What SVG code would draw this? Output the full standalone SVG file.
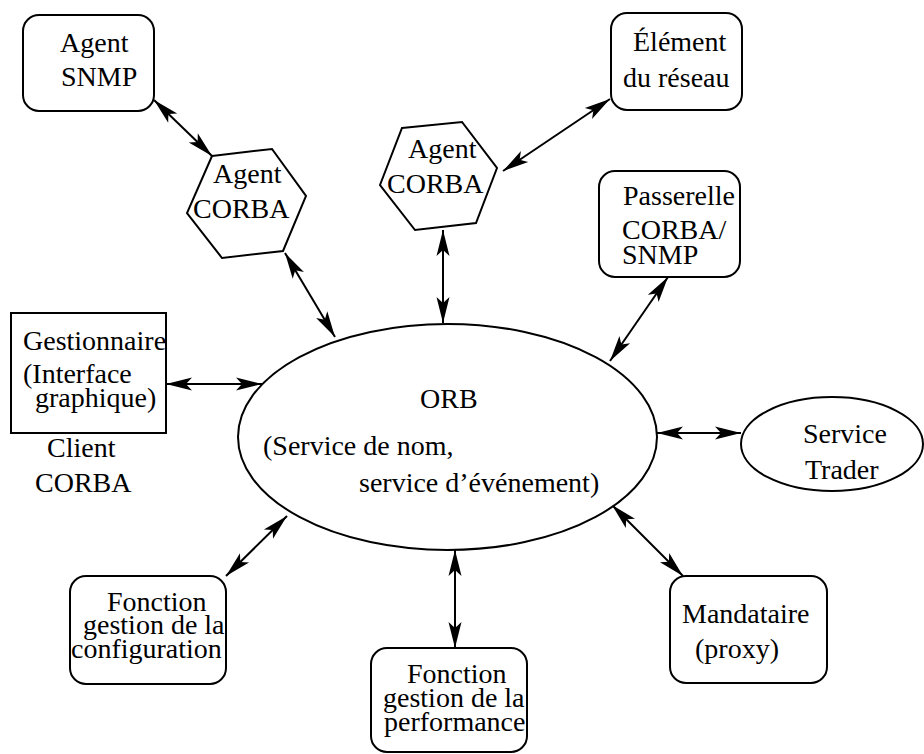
<svg xmlns="http://www.w3.org/2000/svg" width="924" height="754" viewBox="0 0 924 754">
  <style>
    .shape { fill: #fff; stroke: #000; stroke-width: 2; }
    .link { fill: none; stroke: #000; stroke-width: 2; marker-start: url(#head); marker-end: url(#head); }
    .label { font-family: 'Liberation Serif', 'DejaVu Serif', 'Times New Roman', serif; font-size: 28px; fill: #000; }
  </style>
  <defs>
    <!-- narrow filled arrowhead with a shallow notch -->
    <marker id="head" markerUnits="userSpaceOnUse" viewBox="-27 -7 28 14" refX="0" refY="0" markerWidth="28" markerHeight="14" orient="auto-start-reverse">
      <path d="M0,0 L-26,-6.5 L-20,0 L-26,6.5 Z" fill="#000"/>
    </marker>
  </defs>
  <rect width="924" height="754" fill="#fff"/>

  <g id="connectors">
    <line class="link" x1="154" y1="100" x2="212" y2="156"/>
    <line class="link" x1="285" y1="253" x2="335" y2="337"/>
    <line class="link" x1="443" y1="230" x2="443" y2="323"/>
    <line class="link" x1="503" y1="171" x2="610" y2="99"/>
    <line class="link" x1="668" y1="277" x2="610" y2="361"/>
    <line class="link" x1="166" y1="384" x2="262" y2="384"/>
    <line class="link" x1="657" y1="433" x2="741" y2="433"/>
    <line class="link" x1="612" y1="505" x2="683" y2="576"/>
    <line class="link" x1="455" y1="550" x2="455" y2="648"/>
    <line class="link" x1="287" y1="516" x2="226" y2="576"/>
  </g>

  <g class="label" font-family="Liberation Serif, serif">
    <g id="agent-snmp">
      <rect class="shape" x="23" y="15" width="131" height="96" rx="16"/>
      <text x="60" y="52">Agent</text>
      <text x="61" y="86">SNMP</text>
    </g>

    <g id="agent-corba-1">
      <polygon class="shape" points="212,156 272,149 306,196 283,251 222,258 187,213"/>
      <text x="213" y="183">Agent</text>
      <text x="193" y="218">CORBA</text>
    </g>

    <g id="agent-corba-2">
      <polygon class="shape" points="402,128 462,122 497,168 476,223 415,230 380,185"/>
      <text x="408" y="158">Agent</text>
      <text x="387" y="193">CORBA</text>
    </g>

    <g id="element-reseau">
      <rect class="shape" x="611" y="13" width="131" height="97" rx="16"/>
      <text x="633" y="51">Élément</text>
      <text x="623" y="87">du réseau</text>
    </g>

    <g id="passerelle">
      <rect class="shape" x="599" y="171" width="141" height="106" rx="16"/>
      <text x="623" y="205">Passerelle</text>
      <text x="622" y="239">CORBA/</text>
      <text x="622" y="264">SNMP</text>
    </g>

    <g id="gestionnaire">
      <rect class="shape" x="11" y="313" width="155" height="120"/>
      <text x="23" y="350">Gestionnaire</text>
      <text x="23" y="383">(Interface</text>
      <text x="35" y="407">graphique)</text>
      <text x="47" y="457">Client</text>
      <text x="35" y="492">CORBA</text>
    </g>

    <g id="orb">
      <ellipse class="shape" cx="447.5" cy="437" rx="209.5" ry="113"/>
      <text x="420" y="408">ORB</text>
      <text x="263" y="455">(Service de nom,</text>
      <text x="359" y="492">service d’événement)</text>
    </g>

    <g id="service-trader">
      <ellipse class="shape" cx="832" cy="444" rx="91" ry="47"/>
      <text x="803" y="443">Service</text>
      <text x="805" y="479">Trader</text>
    </g>

    <g id="mandataire">
      <rect class="shape" x="670" y="576" width="157" height="107" rx="16"/>
      <text x="682" y="623">Mandataire</text>
      <text x="695" y="658">(proxy)</text>
    </g>

    <g id="fonction-configuration">
      <rect class="shape" x="70" y="576" width="156" height="108" rx="16"/>
      <text x="107" y="611">Fonction</text>
      <text x="83" y="634">gestion de la</text>
      <text x="71" y="658">configuration</text>
    </g>

    <g id="fonction-performance">
      <rect class="shape" x="371" y="648" width="156" height="104" rx="16"/>
      <text x="407" y="683">Fonction</text>
      <text x="383" y="707">gestion de la</text>
      <text x="384" y="731">performance</text>
    </g>
  </g>
</svg>
